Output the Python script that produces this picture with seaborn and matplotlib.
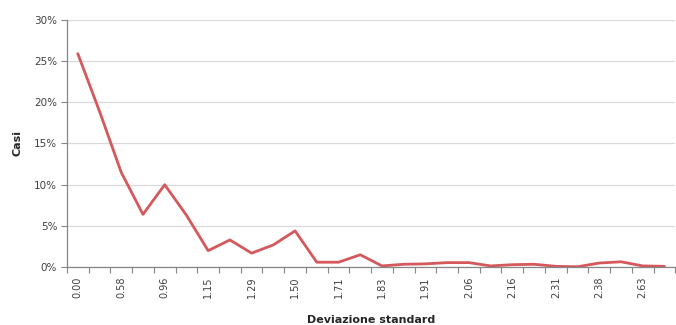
import numpy as np
import pandas as pd
import matplotlib
matplotlib.use("Agg")
import matplotlib.pyplot as plt
import seaborn as sns
from matplotlib.ticker import FixedLocator, FuncFormatter

# percent of cases per standard deviation bucket
casi = [25.9, 18.9, 11.5, 6.4, 10.0, 6.3, 2.0, 3.3, 1.7, 2.7, 4.4, 0.6, 0.6, 1.5,
        0.15, 0.35, 0.4, 0.55, 0.55, 0.15, 0.3, 0.35, 0.1, 0.05, 0.5, 0.65, 0.15, 0.1]
# only every other category is labelled in the original
tick_labels = ["0.00", "0.58", "0.96", "1.15", "1.29", "1.50", "1.71",
               "1.83", "1.91", "2.06", "2.16", "2.31", "2.38", "2.63"]
y_ticks = [0, 5, 10, 15, 20, 25, 30]

df = pd.DataFrame({"pos": np.arange(len(casi)), "casi": casi})

sns.set_theme(style="white")
plt.rcParams["font.family"] = ["DejaVu Sans"]

fig = plt.figure(figsize=(6.76, 3.25), dpi=100)
ax = fig.add_axes([0.099, 0.178, 0.9, 0.761])

sns.lineplot(data=df, x="pos", y="casi", ax=ax, color="#D4585C", linewidth=2.0)

ax.set_xlim(-0.5, len(casi) - 0.5)
ax.set_ylim(0, 30)

# labels at even categories, tick marks on category boundaries
ax.xaxis.set_major_locator(FixedLocator(np.arange(0, len(casi), 2)))
ax.set_xticklabels(tick_labels, rotation=90, fontsize=7, color="#404040")
ax.xaxis.set_minor_locator(FixedLocator(np.arange(-0.5, len(casi), 1)))
ax.tick_params(axis="x", which="major", length=0, pad=7)
ax.tick_params(axis="x", which="minor", length=4, width=0.8, color="#868686",
               direction="out", bottom=True)

ax.set_yticks(y_ticks)
ax.yaxis.set_major_formatter(FuncFormatter(lambda v, _: f"{v:.0f}%"))
ax.tick_params(axis="y", length=4, width=0.8, color="#868686", direction="out",
               labelsize=7.5, labelcolor="#404040", left=True, pad=3)

ax.grid(axis="y", color="#D9D9D9", linewidth=0.9)
ax.set_axisbelow(True)
for side in ["top", "right"]:
    ax.spines[side].set_visible(False)
for side in ["left", "bottom"]:
    ax.spines[side].set_color("#868686")
    ax.spines[side].set_linewidth(0.9)

ax.set_xlabel("Deviazione standard", fontsize=8, fontweight="bold", color="#262626", labelpad=12)
ax.set_ylabel("Casi", fontsize=8, fontweight="bold", color="#262626", labelpad=8)

fig.savefig("out.png", dpi=100)
